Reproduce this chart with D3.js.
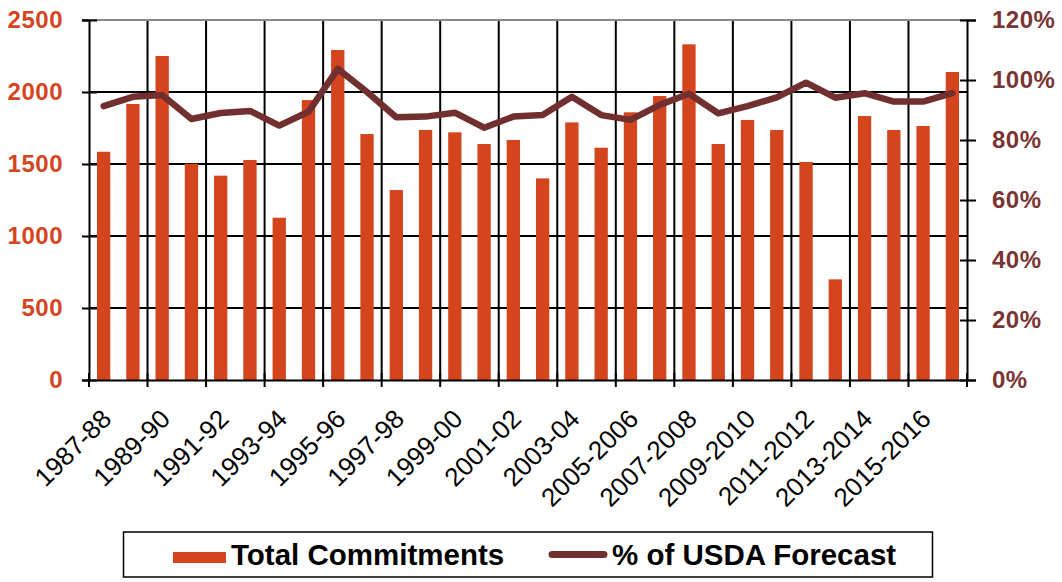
<!DOCTYPE html>
<html>
<head>
<meta charset="utf-8">
<script src="https://cdn.jsdelivr.net/npm/d3@7"></script>
<style>
  body { margin: 0; background: #fff; }
  svg { display: block; font-family: 'Liberation Sans', Arial, sans-serif; }
</style>
</head>
<body>
<svg id="chart" width="1062" height="582"></svg>
<script>
const seasons = [
  '1987-88', '1988-89', '1989-90', '1990-91', '1991-92', '1992-93', '1993-94', '1994-95',
  '1995-96', '1996-97', '1997-98', '1998-99', '1999-00', '2000-01', '2001-02', '2002-03',
  '2003-04', '2004-05', '2005-2006', '2006-2007', '2007-2008', '2008-2009', '2009-2010',
  '2010-2011', '2011-2012', '2012-2013', '2013-2014', '2014-2015', '2015-2016', '2016-2017',
];
const commitments = [
  1585, 1917, 2250, 1502, 1419, 1528, 1127, 1944, 2292, 1708, 1319, 1736, 1720, 1639, 1667,
  1400, 1789, 1613, 1859, 1972, 2331, 1639, 1806, 1736, 1514, 699, 1833, 1736, 1764, 2139,
];
const pctOfForecast = [
  91.3, 94.4, 95.0, 87.0, 89.0, 89.7, 84.8, 89.4, 103.7, 96.0, 87.6, 87.8, 89.1, 84.1, 87.8,
  88.3, 94.4, 88.3, 86.7, 91.7, 95.4, 88.9, 91.3, 94.2, 99.1, 94.1, 95.6, 92.8, 92.8, 95.6,
];
const leftTicks = [0, 500, 1000, 1500, 2000, 2500];
const rightTicks = [0, 20, 40, 60, 80, 100, 120];
const seasonLabels = seasons.filter((d, i) => i % 2 === 0);

const colors = {
  bar: '#d4451d',
  line: '#722f2f',
  left: '#d5461f',
  right: '#7a3434',
};

const plot = { left: 89, right: 967, top: 20, bottom: 380 };

const svg = d3.select('#chart');

const x = d3.scaleBand()
  .domain(seasons)
  .range([plot.left, plot.right])
  .paddingInner(0.545)
  .paddingOuter(0.2725);
const center = (d) => x(d) + x.bandwidth() / 2;
const edge = (i) => plot.left + i * x.step();

const yLeft = d3.scaleLinear().domain([0, 2500]).range([plot.bottom, plot.top]);
const yRight = d3.scaleLinear().domain([0, 120]).range([plot.bottom, plot.top]);

// grid
const grid = svg.append('g').attr('class', 'grid');
grid.selectAll('line.h')
  .data([500, 1000, 1500, 2000])
  .join('line')
  .attr('class', 'h')
  .attr('x1', plot.left)
  .attr('x2', plot.right)
  .attr('y1', (d) => yLeft(d))
  .attr('y2', (d) => yLeft(d))
  .attr('stroke', '#000')
  .attr('stroke-width', 2);
grid.selectAll('line.v')
  .data(d3.range(2, seasons.length, 2))
  .join('line')
  .attr('class', 'v')
  .attr('x1', (d) => edge(d))
  .attr('x2', (d) => edge(d))
  .attr('y1', plot.top)
  .attr('y2', plot.bottom)
  .attr('stroke', '#000')
  .attr('stroke-width', 2);

svg.append('line')
  .attr('x1', plot.left - 7)
  .attr('x2', plot.right)
  .attr('y1', plot.top)
  .attr('y2', plot.top)
  .attr('stroke', '#8a8a8a')
  .attr('stroke-width', 2);

// bars
svg.append('g')
  .selectAll('rect')
  .data(seasons)
  .join('rect')
  .attr('x', (d) => x(d))
  .attr('width', x.bandwidth())
  .attr('y', (d, i) => yLeft(commitments[i]))
  .attr('height', (d, i) => plot.bottom - yLeft(commitments[i]))
  .attr('fill', colors.bar);

// line
const line = d3.line()
  .x((d, i) => center(seasons[i]))
  .y((d) => yRight(d));
svg.append('path')
  .datum(pctOfForecast)
  .attr('d', line)
  .attr('fill', 'none')
  .attr('stroke', colors.line)
  .attr('stroke-width', 6.5)
  .attr('stroke-linejoin', 'round')
  .attr('stroke-linecap', 'round');

// left axis
const leftAxis = svg.append('g')
  .attr('transform', `translate(${plot.left},0)`)
  .call(d3.axisLeft(yLeft).tickValues(leftTicks).tickFormat(d3.format('d'))
    .tickSize(7).tickPadding(19));
leftAxis.select('.domain').attr('stroke', '#000').attr('stroke-width', 2);
leftAxis.selectAll('.tick line').attr('x1', 8).attr('stroke-width', 2);
leftAxis.selectAll('.tick text')
  .attr('fill', colors.left)
  .style('font-size', '24px')
  .style('font-weight', 'bold')
  .style('letter-spacing', '0.5px');

// right axis
const rightAxis = svg.append('g')
  .attr('transform', `translate(${plot.right},0)`)
  .call(d3.axisRight(yRight).tickValues(rightTicks).tickFormat((d) => `${d}%`)
    .tickSize(9).tickPadding(16));
rightAxis.select('.domain').attr('stroke', '#000').attr('stroke-width', 2);
rightAxis.selectAll('.tick line').attr('x1', -7).attr('stroke-width', 2);
rightAxis.selectAll('.tick text')
  .attr('fill', colors.right)
  .style('font-size', '24px')
  .style('font-weight', 'bold')
  .style('letter-spacing', '0.5px');

// bottom axis
const bottomAxis = svg.append('g')
  .attr('transform', `translate(0,${plot.bottom})`)
  .call(d3.axisBottom(x).tickValues(seasonLabels).tickSize(0).tickPadding(0));
bottomAxis.select('.domain').attr('stroke', '#000').attr('stroke-width', 2);
bottomAxis.selectAll('.tick text')
  .attr('x', 0)
  .attr('y', 0)
  .attr('dy', '0.35em')
  .attr('transform', 'translate(3,34) rotate(-45)')
  .attr('text-anchor', 'end')
  .attr('fill', '#000')
  .style('font-size', '26px');
bottomAxis.selectAll('line.edge')
  .data(d3.range(0, seasons.length + 1, 2))
  .join('line')
  .attr('class', 'edge')
  .attr('x1', (d) => edge(d))
  .attr('x2', (d) => edge(d))
  .attr('y1', -7)
  .attr('y2', 7)
  .attr('stroke', '#000')
  .attr('stroke-width', 2);

// legend
const legend = svg.append('g').attr('class', 'legend');
legend.append('rect')
  .attr('x', 123.5)
  .attr('y', 532)
  .attr('width', 809)
  .attr('height', 45)
  .attr('fill', '#fff')
  .attr('stroke', '#000')
  .attr('stroke-width', 1.5);
legend.append('rect')
  .attr('x', 173)
  .attr('y', 552)
  .attr('width', 53)
  .attr('height', 11)
  .attr('fill', colors.bar);
legend.append('line')
  .attr('x1', 552)
  .attr('x2', 604)
  .attr('y1', 554.5)
  .attr('y2', 554.5)
  .attr('stroke', colors.line)
  .attr('stroke-width', 7)
  .attr('stroke-linecap', 'round');
legend.selectAll('text')
  .data([
    { x: 231, text: 'Total Commitments' },
    { x: 612, text: '% of USDA Forecast' },
  ])
  .join('text')
  .attr('x', (d) => d.x)
  .attr('y', 565)
  .style('font-size', '29.5px')
  .style('font-weight', 'bold')
  .attr('fill', '#000')
  .text((d) => d.text);
</script>
</body>
</html>
